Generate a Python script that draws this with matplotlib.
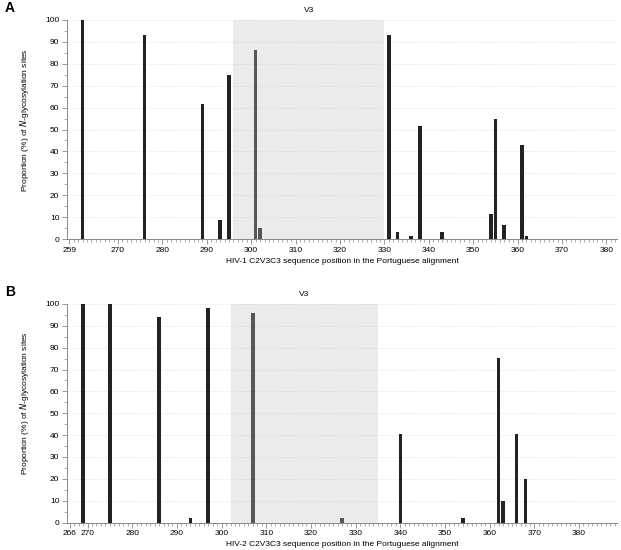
import matplotlib
matplotlib.use("Agg")
import matplotlib.pyplot as plt
from matplotlib.ticker import MultipleLocator, FixedLocator

plt.rcParams['font.family'] = ['Liberation Sans', 'DejaVu Sans']

# panel A: HIV-1
pos_a = [262, 276, 289, 293, 295, 301, 302, 331, 333, 336, 338, 343, 354, 355, 357, 361, 362]
val_a = [100, 93, 61.5, 8.5, 75, 86.5, 5, 93, 3.3, 1.5, 51.5, 3.3, 11.5, 55, 6.5, 43, 1.5]
v3_a = (296, 330)
xlim_a = (258.5, 382.4)
ticks_a = [259] + list(range(270, 381, 10))

# panel B: HIV-2
pos_b = [269, 275, 286, 293, 297, 307, 327, 340, 354, 362, 363, 366, 368]
val_b = [100, 100, 94, 2, 98, 96, 2, 40.5, 2, 75.5, 10, 40.5, 20]
v3_b = (302, 335)
xlim_b = (265.4, 388.5)
ticks_b = [266] + list(range(270, 381, 10))

fig = plt.figure(figsize=(6.21, 5.5), dpi=100)
axA = fig.add_axes([67/621, 1-239/550, 550/621, 219/550])
axB = fig.add_axes([67/621, 1-522.5/550, 550/621, 218.5/550])


def panel(ax, pos, val, v3, xlim, ticks, virus, letter):
    ax.bar(pos, val, width=0.8, color='#222222', zorder=2)
    ax.axvspan(v3[0], v3[1], color='#c4c4c4', alpha=0.33, lw=0, zorder=3)
    ax.text((v3[0] + v3[1]) / 2, 104.5, 'V3', ha='center', va='center', fontsize=6)
    ax.set_xlim(*xlim)
    ax.set_ylim(0, 100)
    ax.xaxis.set_major_locator(FixedLocator(ticks))
    ax.xaxis.set_minor_locator(MultipleLocator(1))
    ax.yaxis.set_major_locator(MultipleLocator(10))
    ax.yaxis.set_minor_locator(MultipleLocator(5))
    ax.grid(axis='y', which='major', linestyle=(0, (1, 2)), color='#d4d4d4', lw=0.6, zorder=0)
    for s in ['top', 'right']:
        ax.spines[s].set_visible(False)
    for s in ['left', 'bottom']:
        ax.spines[s].set_color('#888888')
        ax.spines[s].set_linewidth(0.7)
    ax.tick_params(which='major', length=3.5, width=0.6, color='#888888', labelsize=6, pad=2)
    ax.tick_params(which='minor', length=2, width=0.5, color='#888888')
    ax.set_xlabel(virus + ' C2V3C3 sequence position in the Portuguese alignment',
                  fontsize=6, labelpad=3)
    ax.set_ylabel(r'Proportion (%) of $\it{N}$-glycosylation sites', fontsize=6)
    ax.yaxis.set_label_coords(-0.065, 0.545)
    ax.set_axisbelow(True)
    fig.text(5/621, ax.get_position().y1 + 12/550, letter, fontsize=10, fontweight='bold',
             ha='left', va='center')


panel(axA, pos_a, val_a, v3_a, xlim_a, ticks_a, 'HIV-1', 'A')
panel(axB, pos_b, val_b, v3_b, xlim_b, ticks_b, 'HIV-2', 'B')

fig.savefig('out.png', dpi=100)
